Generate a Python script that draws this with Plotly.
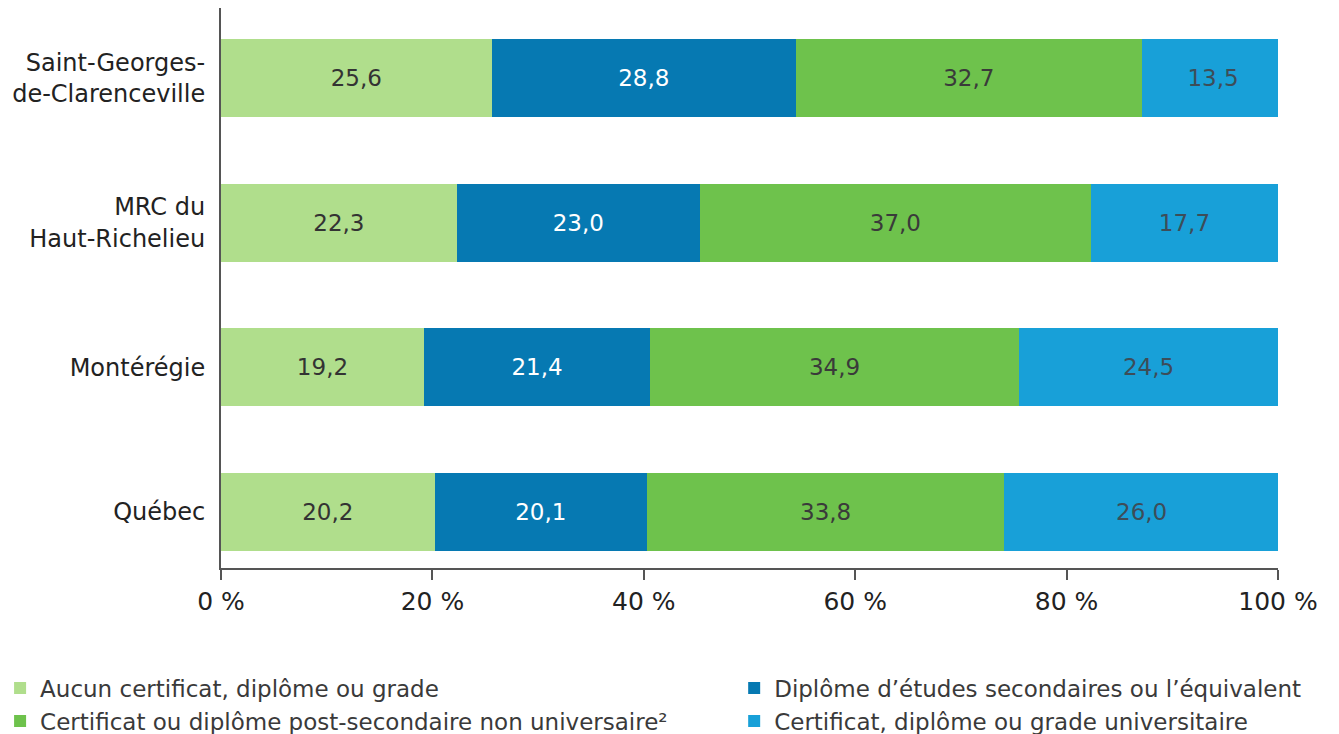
import plotly.graph_objects as go

territoires = ["Québec", "Montérégie", "MRC du<br>Haut-Richelieu", "Saint-Georges-<br>de-Clarenceville"]

aucun = [20.2, 19.2, 22.3, 25.6]
secondaire = [20.1, 21.4, 23.0, 28.8]
post_sec = [33.8, 34.9, 37.0, 32.7]
universitaire = [26.0, 24.5, 17.7, 13.5]

tick_vals = [0, 20, 40, 60, 80, 100]
tick_text = ["0 %", "20 %", "40 %", "60 %", "80 %", "100 %"]

# (nom, valeurs, couleur, couleur du texte, légende)
series = [
    ("Aucun certificat, diplôme ou grade", aucun, "rgb(176,222,140)", "#333333", "legend"),
    ("Diplôme d’études secondaires ou l’équivalent", secondaire, "rgb(6,121,178)", "#ffffff", "legend2"),
    ("Certificat ou diplôme post-secondaire non universaire²", post_sec, "rgb(110,194,76)", "#3a3a3a", "legend"),
    ("Certificat, diplôme ou grade universitaire", universitaire, "rgb(24,160,216)", "#3d4d58", "legend2"),
]

fig = go.Figure()
for name, vals, color, txtcol, leg in series:
    fig.add_trace(go.Bar(
        y=territoires,
        x=vals,
        orientation="h",
        name=name,
        legend=leg,
        marker=dict(color=color, line=dict(width=0)),
        text=[f"{v:.1f}".replace(".", ",") for v in vals],
        textposition="inside",
        insidetextanchor="middle",
        textfont=dict(size=23, color=txtcol),
        width=0.54,
    ))

legend_style = dict(
    orientation="v",
    traceorder="normal",
    yanchor="top",
    y=-0.176,
    xanchor="left",
    font=dict(family="DejaVu Sans, sans-serif", size=23, color="#3a3a3a"),
    tracegroupgap=0,
    bgcolor="rgba(0,0,0,0)",
)

fig.update_layout(
    barmode="stack",
    width=1339,
    height=734,
    margin=dict(l=213, r=69, t=0, b=174, autoexpand=False),
    plot_bgcolor="white",
    paper_bgcolor="white",
    font=dict(family="DejaVu Sans, sans-serif", size=22, color="#2b2b2b"),
    showlegend=True,
    legend=dict(x=-0.209, **legend_style),
    legend2=dict(x=0.4855, **legend_style),
    uniformtext=dict(minsize=22, mode="show"),
)

fig.update_xaxes(
    range=[0, 100],
    tickvals=tick_vals,
    ticktext=tick_text,
    showgrid=False,
    zeroline=False,
    showline=True,
    linecolor="#555555",
    linewidth=2,
    ticks="outside",
    ticklen=10,
    tickcolor="#555555",
    tickwidth=2,
    tickfont=dict(size=25, color="#222222"),
)
fig.update_yaxes(
    range=[-0.39, 3.485],
    showgrid=False,
    zeroline=False,
    showline=True,
    linecolor="#555555",
    linewidth=2,
    ticks="",
    ticklabelstandoff=9,
    tickfont=dict(size=24, color="#222222"),
)

fig.write_html("out.html")
